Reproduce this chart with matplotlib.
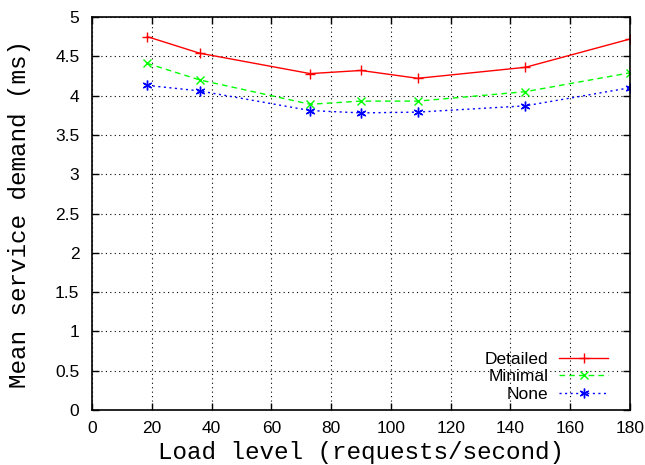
import matplotlib.pyplot as plt

# 负载水平 (requests/second)
load = [18.5, 36, 73, 90, 109, 145, 180]
# 平均服务需求 (ms)
detailed = [4.75, 4.54, 4.28, 4.32, 4.22, 4.36, 4.72]
minimal = [4.41, 4.20, 3.89, 3.93, 3.93, 4.05, 4.29]
none = [4.13, 4.06, 3.81, 3.78, 3.79, 3.87, 4.10]

fig = plt.figure(figsize=(6.45, 4.65), dpi=100)
ax = fig.add_axes([0.1426, 0.1183, 0.8341, 0.8451])

ax.plot(load, detailed, color='#ff0000', lw=1, marker='+', ms=7.5, mew=1, label='Detailed')
ax.plot(load, minimal, color='#00ff00', lw=1, ls=(0, (4, 3)), marker='x', ms=6, mew=1, label='Minimal')
ax.plot(load, none, color='#0000ff', lw=1, ls=(0, (1.5, 2.5)), marker=(6, 2, 0), ms=7, mew=1, label='None')

ax.set_xlim(0, 180)
ax.set_ylim(0, 5)
ax.set_xticks(range(0, 181, 20))
ax.set_yticks([i * 0.5 for i in range(11)])
ax.set_yticklabels(['0', '0.5', '1', '1.5', '2', '2.5', '3', '3.5', '4', '4.5', '5'])
ax.grid(True, color='black', ls=(0, (1, 3)), lw=0.8)
ax.tick_params(direction='in', top=True, right=True, length=5, width=1, labelsize=12.5)
ax.tick_params(axis='y', pad=9)
ax.tick_params(axis='x', pad=8)
for lab in ax.get_xticklabels() + ax.get_yticklabels():
    lab.set_family('Liberation Sans')
for s in ax.spines.values():
    s.set_linewidth(1.2)

ax.set_xlabel('Load level (requests/second)', family='Liberation Mono', fontsize=17.5, labelpad=3.5)
ax.set_ylabel('Mean service demand (ms)', family='Liberation Mono', fontsize=17.5, labelpad=17)

leg = ax.legend(loc='lower right', bbox_to_anchor=(1 - 22 / 538, 8 / 393), frameon=False,
                markerfirst=False, handlelength=2.8, borderpad=0, borderaxespad=0,
                prop={'family': 'Liberation Sans', 'size': 12.5}, labelspacing=0.14,
                handletextpad=0.62)
for t in leg.get_texts():
    t.set_ha('right')

fig.savefig('out.png', dpi=100)
